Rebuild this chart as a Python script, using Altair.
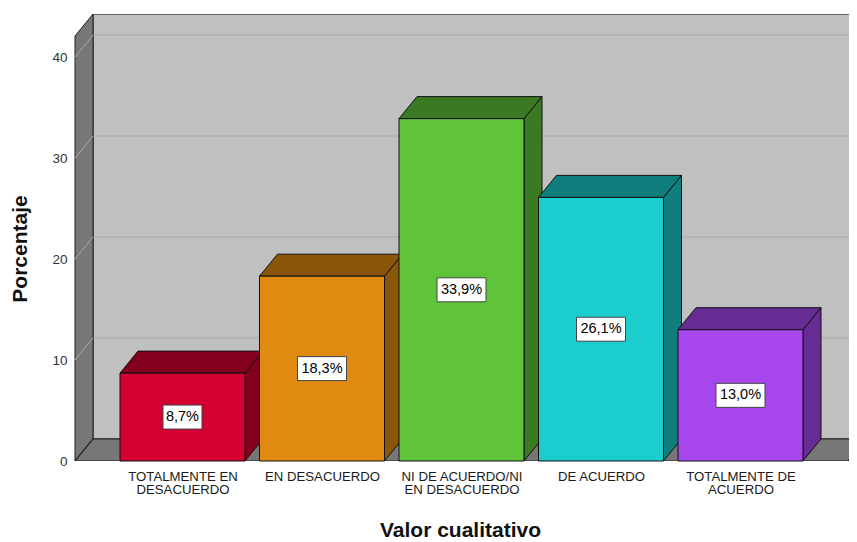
import json
import altair as alt
import pandas as pd

# ---- data ----
categories = ["TOTALMENTE EN\nDESACUERDO", "EN DESACUERDO", "NI DE ACUERDO/NI\nEN DESACUERDO",
              "DE ACUERDO", "TOTALMENTE DE\nACUERDO"]
values = [8.7, 18.3, 33.9, 26.1, 13.0]
value_labels = ["8,7%", "18,3%", "33,9%", "26,1%", "13,0%"]
front_colors = ["#d50032", "#e08a12", "#5fc43a", "#1ccdcd", "#a846ee"]
dark_colors = ["#82001e", "#8a560a", "#3b7a23", "#117e7e", "#672c94"]
y_ticks = [0, 10, 20, 30, 40]

# ---- layout constants (in scale units) ----
PXU = 139.5                 # px per category step
PXV = 10.1                  # px per value unit
W = 774
X0 = 0.2294
X1 = X0 + W / PXU           # x domain (category index units)
XF = 5.771                  # right end of front floor edge
DX = 0.129                  # 3D depth, x
DY = 2.18                   # 3D depth, y (value units)
HW = 0.448                  # half bar width
YMAX = 44.26
FONT = "Liberation Sans"

xs = alt.Scale(domain=[X0, X1], nice=False, zero=False)
ys = alt.Scale(domain=[0, YMAX], nice=False, zero=False)

idx = list(range(1, len(values) + 1))
label_arr = [c.split("\n") if "\n" in c else c for c in categories]
label_expr = json.dumps(label_arr) + "[datum.value - 1]"

xax = alt.Axis(
    values=idx, labelExpr=label_expr, title="Valor cualitativo", ticks=False, domain=False,
    grid=False, labelOverlap=False, labelFlush=False, labelBound=False,
    labelFont=FONT, labelFontSize=13.2, labelColor="#1a1a1a", labelPadding=9, labelLineHeight=13.4,
    titleFont=FONT, titleFontSize=21, titleFontWeight="bold", titleColor="#111111",
    titlePadding=24, titleX=385)
yax = alt.Axis(
    values=y_ticks, title="Porcentaje", ticks=False, domain=False, grid=False,
    labelFont=FONT, labelFontSize=13.5, labelColor="#333333", labelPadding=8,
    titleFont=FONT, titleFontSize=21, titleFontWeight="bold", titleColor="#111111",
    titlePadding=21, titleY=234.5)


def X(field):
    return alt.X(field, scale=xs, axis=xax)


def Y(field):
    return alt.Y(field, scale=ys, axis=yax)


bars = pd.DataFrame({
    "i": idx, "v": values, "lab": value_labels,
    "front": front_colors, "dark": dark_colors,
})
bars["base"] = 0.0
bars["x0"] = bars["i"] - HW
bars["x1"] = bars["i"] + HW
bars["mid"] = bars["v"] / 2
bars["bw"] = (bars["lab"].str.len() * 10 - 1) / PXU / 2
bars["bx0"] = bars["i"] - bars["bw"]
bars["bx1"] = bars["i"] + bars["bw"]
bars["by0"] = bars["mid"] - 12 / PXV
bars["by1"] = bars["mid"] + 12 / PXV

side_rows, top_rows = [], []
for _, r in bars.iterrows():
    side_rows.append({"i": r.i, "dark": r.dark, "x": r.x1, "y": 0.0, "y2": r.v})
    side_rows.append({"i": r.i, "dark": r.dark, "x": r.x1 + DX, "y": DY, "y2": r.v + DY})
    top_rows.append({"i": r.i, "dark": r.dark, "y": r.v, "x": r.x0, "x2": r.x1})
    top_rows.append({"i": r.i, "dark": r.dark, "y": r.v + DY, "x": r.x0 + DX, "x2": r.x1 + DX})
side = pd.DataFrame(side_rows)
top = pd.DataFrame(top_rows)

# ---- walls & floor ----
wall = alt.Chart(pd.DataFrame({"x": [X0 + DX], "x2": [X1 + 0.05], "y": [DY], "y2": [YMAX]})).mark_rect(
    fill="#c0c0c0", stroke="#444444", strokeWidth=1.5, clip=True
).encode(x=X("x:Q"), x2="x2:Q", y=Y("y:Q"), y2="y2:Q")

left_wall = alt.Chart(pd.DataFrame({"x": [X0, X0 + DX], "y": [0, DY], "y2": [YMAX - DY, YMAX]})).mark_area(
    orient="vertical", fill="#777777", stroke="#222222", strokeWidth=1
).encode(x=X("x:Q"), y=Y("y:Q"), y2="y2:Q")

floor = alt.Chart(pd.DataFrame({"y": [0, DY], "x": [X0, X0 + DX], "x2": [XF, XF + DX]})).mark_area(
    orient="horizontal", fill="#777777", stroke="#222222", strokeWidth=1.2, clip=True
).encode(y=Y("y:Q"), x=X("x:Q"), x2="x2:Q")

grid_df = pd.DataFrame({"t": y_ticks[1:]})
grid_df["tb"] = grid_df["t"] + DY
grid_df["xa"] = X0
grid_df["xb"] = X0 + DX
grid_df["xc"] = X1
grid_back = alt.Chart(grid_df).mark_rule(color="#b0b0b0", strokeWidth=1.5, clip=True).encode(
    x=X("xb:Q"), x2="xc:Q", y=Y("tb:Q"),
)
grid_left = alt.Chart(grid_df).mark_rule(color="#a8a8a8", strokeWidth=1).encode(
    x=X("xa:Q"), x2="xb:Q", y=Y("t:Q"), y2="tb:Q",
)

# ---- bars ----
sides = alt.Chart(side).mark_area(orient="vertical", stroke="#111111", strokeWidth=1).encode(
    x=X("x:Q"), y=Y("y:Q"), y2="y2:Q",
    fill=alt.Fill("dark:N", scale=None), detail="i:N",
)
tops = alt.Chart(top).mark_area(orient="horizontal", stroke="#111111", strokeWidth=1).encode(
    y=Y("y:Q"), x=X("x:Q"), x2="x2:Q",
    fill=alt.Fill("dark:N", scale=None), detail="i:N",
)
fronts = alt.Chart(bars).mark_rect(stroke="#111111", strokeWidth=1).encode(
    x=X("x0:Q"), x2="x1:Q", y=Y("base:Q"), y2="v:Q",
    fill=alt.Fill("front:N", scale=None),
)
boxes = alt.Chart(bars).mark_rect(fill="white", stroke="#444444", strokeWidth=1).encode(
    x=X("bx0:Q"), x2="bx1:Q", y=Y("by0:Q"), y2="by1:Q",
)
texts = alt.Chart(bars).mark_text(font=FONT, fontSize=14.5, color="#000000", baseline="middle").encode(
    x=X("i:Q"), y=Y("mid:Q"), text="lab:N",
)

chart = alt.layer(
    wall, grid_back, left_wall, grid_left, floor, sides, tops, fronts, boxes, texts
).properties(
    width=W, height=447,
    autosize=alt.AutoSizeParams(type="none"),
    padding={"left": 67, "top": 6, "right": 0, "bottom": 81},
).configure_view(stroke=None)

chart.save("out.html", embed_options={"renderer": "svg", "actions": False})
